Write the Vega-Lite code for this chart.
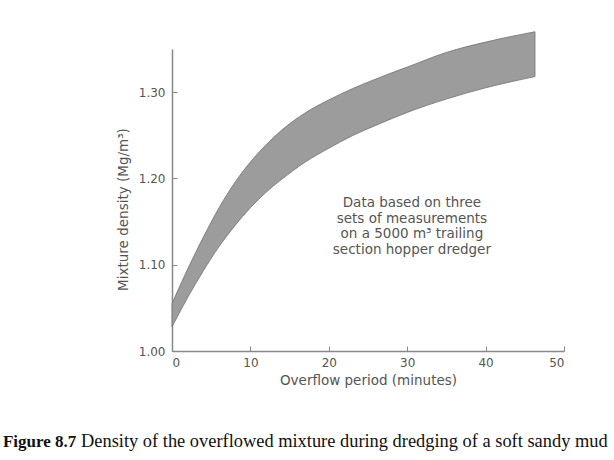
{
  "$schema": "https://vega.github.io/schema/vega-lite/v6.json",
  "width": 392,
  "height": 302,
  "autosize": "none",
  "padding": {"left": 172, "top": 49, "right": 50, "bottom": 109},
  "background": "white",
  "config": {
    "view": {"stroke": null},
    "axis": {
      "domainColor": "#888888",
      "domainWidth": 1.5,
      "tickColor": "#888888",
      "tickWidth": 1,
      "grid": false,
      "labelFont": "DejaVu Sans",
      "labelFontSize": 12,
      "labelColor": "#555555",
      "titleFont": "DejaVu Sans",
      "titleFontSize": 13.5,
      "titleFontWeight": "normal",
      "titleColor": "#555555"
    }
  },
  "layer": [
    {
      "data": {
        "values": [
          {"t": 0, "lo": 1.028, "hi": 1.055},
          {"t": 2, "lo": 1.062, "hi": 1.095},
          {"t": 4, "lo": 1.093, "hi": 1.132},
          {"t": 6, "lo": 1.121, "hi": 1.166},
          {"t": 8, "lo": 1.145, "hi": 1.195},
          {"t": 10, "lo": 1.166, "hi": 1.219},
          {"t": 12, "lo": 1.184, "hi": 1.239},
          {"t": 14, "lo": 1.199, "hi": 1.256},
          {"t": 17, "lo": 1.219, "hi": 1.276},
          {"t": 20, "lo": 1.235, "hi": 1.291},
          {"t": 23, "lo": 1.2495, "hi": 1.304},
          {"t": 26.5, "lo": 1.2635, "hi": 1.317},
          {"t": 30, "lo": 1.2765, "hi": 1.329},
          {"t": 35, "lo": 1.292, "hi": 1.346},
          {"t": 40, "lo": 1.305, "hi": 1.358},
          {"t": 46.3, "lo": 1.318, "hi": 1.370}
        ]
      },
      "mark": {"type": "area", "interpolate": "monotone", "fill": "#9c9c9c", "stroke": "#707070", "strokeWidth": 0.8, "clip": false},
      "encoding": {
        "x": {
          "field": "t", "type": "quantitative",
          "scale": {"domain": [0, 50], "nice": false},
          "axis": {"values": [0, 10, 20, 30, 40, 50], "tickSize": -5, "labelPadding": 11, "title": "Overflow period (minutes)", "titlePadding": 5}
        },
        "y": {
          "field": "hi", "type": "quantitative",
          "scale": {"domain": [1.0, 1.35], "nice": false, "zero": false},
          "axis": {"values": [1.0, 1.1, 1.2, 1.3], "format": ".2f", "tickSize": -5, "labelPadding": 12, "title": "Mixture density (Mg/m³)", "titlePadding": 8, "titleY": 160}
        },
        "y2": {"field": "lo"}
      }
    },
    {
      "data": {"values": [{"note": ["Data based on three", "sets of measurements", "on a 5000 m³ trailing", "section hopper dredger"]}]},
      "mark": {"type": "text", "font": "DejaVu Sans", "fontSize": 13.5, "color": "#555555", "align": "center", "baseline": "middle", "lineHeight": 15.5},
      "encoding": {
        "x": {"datum": 30.6, "type": "quantitative"},
        "y": {"datum": 1.171, "type": "quantitative"},
        "text": {"field": "note"}
      }
    },
    {
      "data": {"values": [{"cap": "Figure 8.7"}]},
      "mark": {"type": "text", "font": "Liberation Serif", "fontSize": 17, "fontWeight": "bold", "color": "#111111", "align": "left", "baseline": "alphabetic", "clip": false},
      "encoding": {
        "x": {"datum": -21.56, "type": "quantitative"},
        "y": {"datum": 0.889, "type": "quantitative"},
        "text": {"field": "cap"}
      }
    },
    {
      "data": {"values": [{"cap": "Density of the overflowed mixture during dredging of a soft sandy mud"}]},
      "mark": {"type": "text", "font": "Liberation Serif", "fontSize": 18.4, "color": "#111111", "align": "left", "baseline": "alphabetic", "clip": false},
      "encoding": {
        "x": {"datum": -11.6, "type": "quantitative"},
        "y": {"datum": 0.889, "type": "quantitative"},
        "text": {"field": "cap"}
      }
    }
  ]
}
